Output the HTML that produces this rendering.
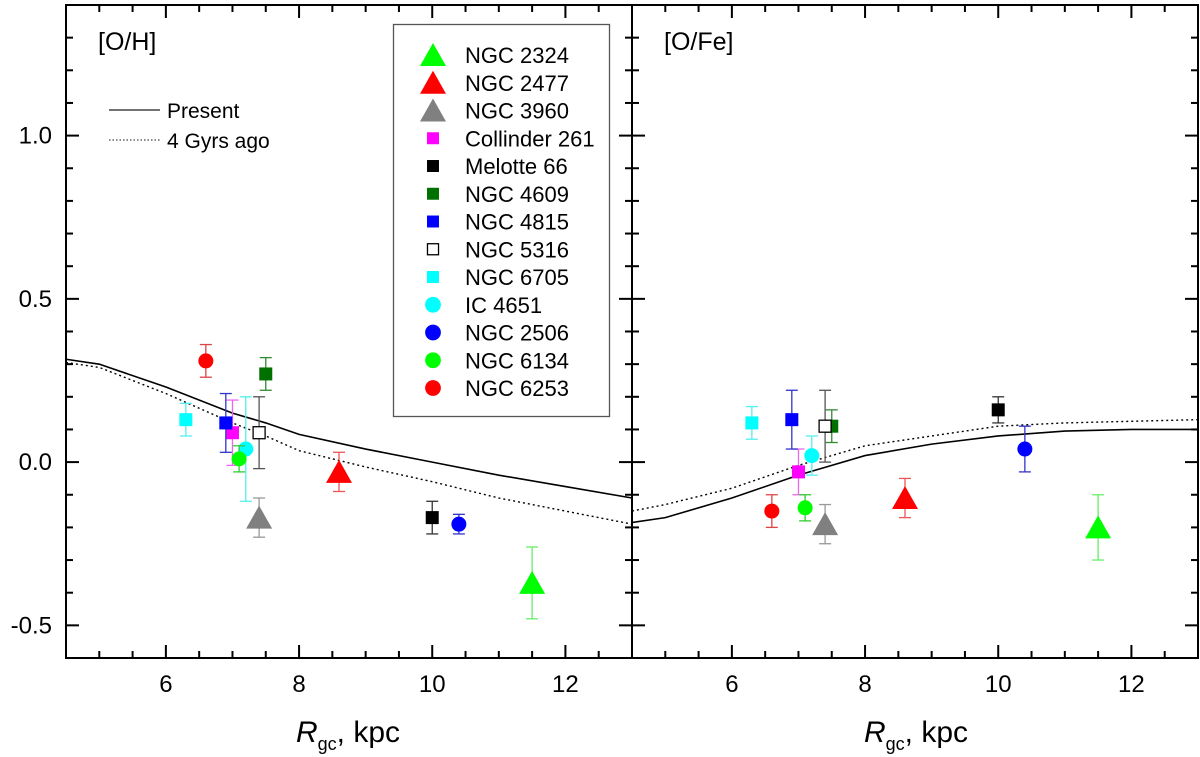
<!DOCTYPE html>
<html><head><meta charset="utf-8"><style>
html,body{margin:0;padding:0;background:#fff;}
svg{display:block;font-family:"Liberation Sans",Arial,sans-serif;}
</style></head><body>
<svg id="chart" width="1200" height="757" viewBox="0 0 1200 757">
<g id="root"></g>
</svg>
<script>
// ---- data ----
const clusterNames = ["NGC 2324","NGC 2477","NGC 3960","Collinder 261","Melotte 66","NGC 4609","NGC 4815","NGC 5316","NGC 6705","IC 4651","NGC 2506","NGC 6134","NGC 6253"];
const clusterRgc = [11.5, 8.6, 7.4, 7.0, 10.0, 7.5, 6.9, 7.4, 6.3, 7.2, 10.4, 7.1, 6.6];
const ohValues = [-0.37, -0.03, -0.17, 0.09, -0.17, 0.27, 0.12, 0.09, 0.13, 0.04, -0.19, 0.01, 0.31];
const ohErrors = [0.11, 0.06, 0.06, 0.10, 0.05, 0.05, 0.09, 0.11, 0.05, 0.16, 0.03, 0.04, 0.05];
const ofeValues = [-0.20, -0.11, -0.19, -0.03, 0.16, 0.11, 0.13, 0.11, 0.12, 0.02, 0.04, -0.14, -0.15];
const ofeErrors = [0.10, 0.06, 0.06, 0.07, 0.04, 0.05, 0.09, 0.11, 0.05, 0.06, 0.07, 0.04, 0.05];
const modelR = [4.5, 5, 6, 7, 7.5, 8, 9, 10, 11, 12, 13];
const ohPresent = [0.315, 0.30, 0.23, 0.15, 0.12, 0.085, 0.04, 0.0, -0.04, -0.075, -0.11];
const ohPast = [0.305, 0.29, 0.21, 0.12, 0.08, 0.035, -0.015, -0.06, -0.11, -0.15, -0.19];
const ofePresent = [-0.185, -0.17, -0.11, -0.04, -0.01, 0.02, 0.055, 0.08, 0.095, 0.10, 0.10];
const ofePast = [-0.15, -0.13, -0.08, -0.01, 0.02, 0.05, 0.08, 0.11, 0.12, 0.125, 0.13];
const xTickLabels = ["6","8","10","12"];
const yTickLabels = ["-0.5","0.0","0.5","1.0"];
// ---- styles (not data) ----
const mk = [
 ["tri","#00ff00"],["tri","#ff0000"],["tri","#808080"],["sq","#ff00ff"],["sq","#000000"],["sq","#007000"],
 ["sq","#0000ff"],["open","#000000"],["sq","#00ffff"],["circ","#00ffff"],["circ","#0000ff"],["circ","#00ff00"],["circ","#ff0000"]];
const errCol = ["#66ee66","#ee5555","#999999","#ee66ee","#333333","#338833","#3333cc","#555555","#55eeee","#55eeee","#3333cc","#33cc33","#dd4444"];

const NS="http://www.w3.org/2000/svg";
const root=document.getElementById('root');
function el(tag,attrs,parent){const e=document.createElementNS(NS,tag);for(const k in attrs)e.setAttribute(k,attrs[k]);(parent||root).appendChild(e);return e;}

const TOP=5,BOT=658,Y0=-0.6,Y1=1.4,XMIN=4.5,XMAX=13;
const panels=[{l:66,r:632},{l:632,r:1198}];
function sx(p,v){const P=panels[p];return P.l+(v-XMIN)/(XMAX-XMIN)*(P.r-P.l);}
function sy(v){return BOT-(v-Y0)/(Y1-Y0)*(BOT-TOP);}

function drawPanel(p,vals,errs,present,past,label){
  const g=el('g',{});
  
  
  const P=panels[p];
  const pts1=modelR.map((r,i)=>sx(p,r)+','+sy(present[i])).join(' ');
  const l1=el('polyline',{points:pts1,fill:'none',stroke:'#000','stroke-width':1.6},g);
  
  
  const pts2=modelR.map((r,i)=>sx(p,r)+','+sy(past[i])).join(' ');
  const l2=el('polyline',{points:pts2,fill:'none',stroke:'#000','stroke-width':1.4,'stroke-dasharray':'2,3'},g);
  
  
  for(let i=0;i<clusterNames.length;i++){
    const cx=sx(p,clusterRgc[i]),cy=sy(vals[i]);
    const eg=el('g',{},g);
    
    
    const yt=sy(vals[i]+errs[i]),yb=sy(vals[i]-errs[i]);
    el('line',{x1:cx,x2:cx,y1:yt,y2:yb,stroke:errCol[i],'stroke-width':1.3},eg);
    el('line',{x1:cx-6,x2:cx+6,y1:yt,y2:yt,stroke:errCol[i],'stroke-width':1.3},eg);
    el('line',{x1:cx-6,x2:cx+6,y1:yb,y2:yb,stroke:errCol[i],'stroke-width':1.3},eg);
    drawMarker(eg,mk[i][0],mk[i][1],cx,cy,1);
  }
  const fr=el('rect',{x:P.l,y:TOP,width:P.r-P.l,height:BOT-TOP,fill:'none',stroke:'#000','stroke-width':2},g);
  
  
  for(let v=5;v<=13.001;v+=0.5){
    const x=sx(p,v);const major=Math.abs(v/2-Math.round(v/2))<1e-6;const len=major?13:7;
    if(x<=P.l+1||x>=P.r-1)continue;
    el('line',{x1:x,x2:x,y1:BOT,y2:BOT-len,stroke:'#000','stroke-width':2},g);
    el('line',{x1:x,x2:x,y1:TOP,y2:TOP+len,stroke:'#000','stroke-width':2},g);
  }
  xTickLabels.forEach(s=>{
    const t=el('text',{x:sx(p,parseFloat(s)),y:692,'font-size':24,'text-anchor':'middle'},g);t.textContent=s;
    
    
  });
  for(let k=-5;k<=13;k++){
    const v=k/10,y=sy(v);const major=(k%5===0);const len=major?13:7;
    el('line',{x1:P.l,x2:P.l+len,y1:y,y2:y,stroke:'#000','stroke-width':2},g);
    el('line',{x1:P.r,x2:P.r-len,y1:y,y2:y,stroke:'#000','stroke-width':2},g);
  }
  if(p===0){
    yTickLabels.forEach(s=>{
      const t=el('text',{x:52,y:sy(parseFloat(s))+8,'font-size':24,'text-anchor':'end'},g);t.textContent=s;
      
      
    });
  }
  const pl=el('text',{x:P.l+32,y:50,'font-size':25},g);pl.textContent=label;
  
  
  const at=el('text',{x:p===0?348:916,y:742,'font-size':30,'text-anchor':'middle'},g);
  
  
  at.innerHTML='<tspan font-style="italic">R</tspan><tspan font-size="18" dy="8">gc</tspan><tspan dy="-8">, kpc</tspan>';
}
function drawMarker(g,type,col,cx,cy,s){
  if(type==='tri'){el('polygon',{points:`${cx-13*s},${cy+11*s} ${cx+13*s},${cy+11*s} ${cx},${cy-12*s}`,fill:col},g);}
  else if(type==='sq'){el('rect',{x:cx-6.5*s,y:cy-6.5*s,width:13*s,height:13*s,fill:col},g);}
  else if(type==='open'){el('rect',{x:cx-6*s,y:cy-6*s,width:12*s,height:12*s,fill:'#fff',stroke:'#000','stroke-width':1.3},g);}
  else {el('circle',{cx:cx,cy:cy,r:7.5*s,fill:col},g);}
}
drawPanel(0,ohValues,ohErrors,ohPresent,ohPast,'[O/H]');
drawPanel(1,ofeValues,ofeErrors,ofePresent,ofePast,'[O/Fe]');

const ml=el('g',{});


el('line',{x1:109,x2:160,y1:110,y2:110,stroke:'#444','stroke-width':1.5},ml);
el('line',{x1:109,x2:160,y1:140,y2:140,stroke:'#444','stroke-width':1.3,'stroke-dasharray':'1.5,2'},ml);
let t1=el('text',{x:167,y:118,'font-size':21},ml);t1.textContent='Present';
let t2=el('text',{x:167,y:148,'font-size':21},ml);t2.textContent='4 Gyrs ago';

const lg=el('g',{});


el('rect',{x:393.5,y:24.5,width:216,height:392,fill:'#fff',stroke:'#555','stroke-width':1.3},lg);
clusterNames.forEach((n,i)=>{
  const y=55+i*27.75;
  const e=el('g',{},lg);
  
  
  const t=mk[i][0];
  drawMarker(e,t,mk[i][1],433,y,t==='sq'||t==='open'?0.92:(t==='circ'?1.05:1));
  const tx=el('text',{x:465,y:y+8,'font-size':22},e);tx.textContent=n;
});
</script>
</body></html>
